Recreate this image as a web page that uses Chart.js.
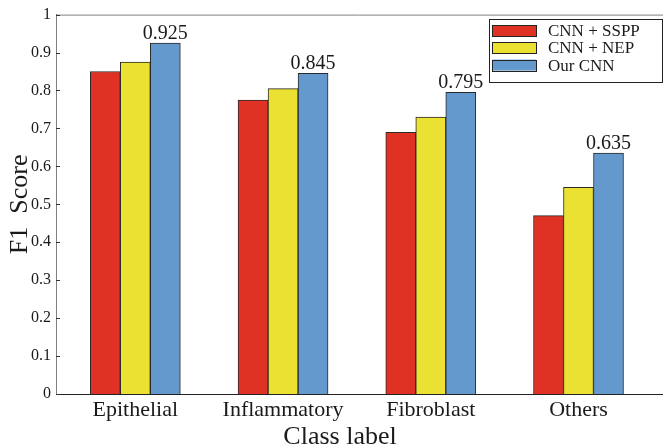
<!DOCTYPE html>
<html>
<head>
<meta charset="utf-8">
<script src="https://cdn.jsdelivr.net/npm/chart.js@4.4.1/dist/chart.umd.min.js"></script>
<style>
  html, body { margin: 0; padding: 0; background: #fff; }
  #wrap { width: 663px; height: 447px; }
</style>
</head>
<body>
<div id="wrap"><canvas id="f1-chart"></canvas></div>
<script>
const classes = ["Epithelial", "Inflammatory", "Fibroblast", "Others"];
const sspp = [0.85, 0.775, 0.69, 0.47];
const nep = [0.875, 0.805, 0.73, 0.545];
const ourCnn = [0.925, 0.845, 0.795, 0.635];
const yTicks = [0, 0.1, 0.2, 0.3, 0.4, 0.5, 0.6, 0.7, 0.8, 0.9, 1];

const serif = "'Liberation Serif', 'Times New Roman', serif";
const ink = "#1a1a1a";

const toPoints = (vals) => vals.map((v, i) => ({ x: i, y: v }));

// legend, value labels, frame and inward ticks
const extras = {
  id: "extras",
  afterDraw(chart) {
    const ctx = chart.ctx;
    const area = chart.chartArea;
    const yScale = chart.scales.y;
    ctx.save();

    // top frame line
    ctx.strokeStyle = "#808080";
    ctx.lineWidth = 1;
    ctx.beginPath();
    ctx.moveTo(area.left, area.top + 0.5);
    ctx.lineTo(area.right, area.top + 0.5);
    ctx.stroke();

    // inward y ticks
    ctx.strokeStyle = "#333";
    yTicks.forEach((t) => {
      const y = Math.round(yScale.getPixelForValue(t)) + 0.5;
      ctx.beginPath();
      ctx.moveTo(area.left, y);
      ctx.lineTo(area.left + 4, y);
      ctx.stroke();
    });

    // value labels on top of "Our CNN"
    ctx.fillStyle = ink;
    ctx.font = "20px " + serif;
    ctx.textAlign = "center";
    ctx.textBaseline = "alphabetic";
    chart.getDatasetMeta(2).data.forEach((bar, i) => {
      ctx.fillText(ourCnn[i].toFixed(3), bar.x, bar.y - 4);
    });

    // x title
    ctx.font = "26px " + serif;
    ctx.fillText("Class label", 340, 444);

    // legend box
    const bx = 489, by = 19, bw = 173, bh = 63;
    ctx.fillStyle = "#fff";
    ctx.fillRect(bx, by, bw, bh);
    ctx.strokeStyle = "#222";
    ctx.strokeRect(bx + 0.5, by + 0.5, bw, bh);
    ctx.font = "17px " + serif;
    ctx.textAlign = "left";
    ctx.textBaseline = "middle";
    chart.data.datasets.forEach((ds, i) => {
      const cy = 30.5 + i * 17.3;
      ctx.fillStyle = ds.backgroundColor;
      ctx.fillRect(492, cy - 5.5, 44, 11);
      ctx.strokeStyle = "#222";
      ctx.strokeRect(492.5, Math.round(cy - 5.5) + 0.5, 44, 11);
      ctx.fillStyle = ink;
      ctx.fillText(ds.label, 548, cy + 1);
    });

    ctx.restore();
  },
};

new Chart(document.getElementById("f1-chart"), {
  type: "bar",
  data: {
    datasets: [
      {
        label: "CNN + SSPP",
        data: toPoints(sspp),
        backgroundColor: "#E03224",
        borderColor: "#2a2a2a",
        borderWidth: 1,
        barThickness: 30,
      },
      {
        label: "CNN + NEP",
        data: toPoints(nep),
        backgroundColor: "#EAE133",
        borderColor: "#2a2a2a",
        borderWidth: 1,
        barThickness: 30,
      },
      {
        label: "Our CNN",
        data: toPoints(ourCnn),
        backgroundColor: "#6399CC",
        borderColor: "#2a2a2a",
        borderWidth: 1,
        barThickness: 30,
      },
    ],
  },
  options: {
    responsive: true,
    maintainAspectRatio: false,
    animation: false,
    layout: { padding: { top: 11, left: 0, right: 0, bottom: 0 } },
    plugins: {
      legend: { display: false },
      tooltip: { enabled: false },
    },
    scales: {
      x: {
        type: "linear",
        offset: false,
        min: -0.537,
        max: 3.572,
        afterBuildTicks: (scale) => {
          scale.ticks = classes.map((c, i) => ({ value: i }));
        },
        afterFit: (scale) => {
          scale.height = 53;
        },
        grid: { display: false, drawTicks: false, offset: false },
        border: { display: true, color: "#222", width: 1 },
        ticks: {
          color: ink,
          font: { family: serif, size: 22 },
          padding: 3,
          maxRotation: 0,
          autoSkip: false,
          callback: (v) => classes[v] ?? "",
        },
      },
      y: {
        min: 0,
        max: 1,
        afterBuildTicks: (scale) => {
          scale.ticks = yTicks.map((v) => ({ value: v }));
        },
        afterFit: (scale) => {
          scale.width = 56;
        },
        grid: { display: false, drawTicks: false },
        border: { display: true, color: "#808080", width: 1 },
        ticks: {
          color: ink,
          font: { family: serif, size: 16 },
          padding: 5,
          callback: (v) => (v === 0 || v === 1 ? String(v) : v.toFixed(1)),
        },
        title: {
          display: true,
          text: "F1  Score",
          color: ink,
          font: { family: serif, size: 26 },
          padding: { top: 5, bottom: 0 },
        },
      },
    },
  },
  plugins: [extras],
});
</script>
</body>
</html>
